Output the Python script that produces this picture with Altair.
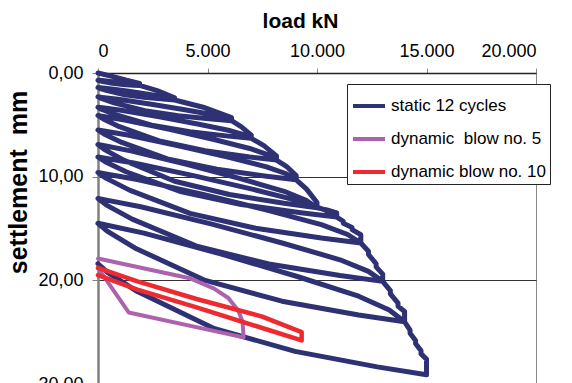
import altair as alt
import pandas as pd

# ---- static load test, 12 load/unload cycles (load kN, settlement mm) ----
static_load = [
    0, 600, 1300, 1900, 1900,
    1615, 1140, 665, 228, 57, 0,
    57, 285, 760, 1235, 1615, 1805, 1900,
    2700, 3500, 3500,
    2975, 2100, 1225, 420, 105, 0,
    105, 525, 1400, 2275, 2975, 3325, 3500,
    4800, 6100, 6100,
    5185, 3660, 2135, 732, 183, 0,
    183, 915, 2440, 3965, 5185, 5795, 6100,
    6550, 7000, 7000,
    5950, 4200, 2450, 840, 210, 0,
    210, 1050, 2800, 4550, 5950, 6650, 7000,
    7575, 8150, 8150,
    6928, 4890, 2853, 978, 245, 0,
    245, 1223, 3260, 5298, 6928, 7743, 8150,
    8600, 9050, 9050,
    7693, 5430, 3168, 1086, 272, 0,
    272, 1358, 3620, 5883, 7693, 8598, 9050,
    9525, 10000, 10000,
    8500, 6000, 3500, 1200, 300, 0,
    300, 1500, 4000, 6500, 8500, 9500, 10000,
    10450, 10900, 10900,
    9265, 6540, 3815, 1308, 327, 0,
    327, 1635, 4360, 7085, 9265, 10355, 10900,
    11200, 11200, 11600, 11600, 12000, 12000,
    10200, 7200, 4200, 1440, 360, 0,
    360, 1800, 4800, 7800, 10200, 11400, 12000,
    12350, 12350, 12700, 12700, 13000, 13000,
    11050, 7800, 4550, 1560, 390, 0,
    390, 1950, 5200, 8450, 11050, 12350, 13000,
    13350, 13350, 13700, 13700, 14000, 14000,
    11900, 8400, 4900, 1680, 420, 0,
    420, 2100, 5600, 9100, 11900, 13300, 14000,
    14250, 14250, 14500, 14500, 14750, 14750, 15000, 15000,
    12750, 9000, 5250, 1800, 450, 0,
]
static_settle = [
    0.0, 0.3, 0.7, 1.0, 1.2,
    1.17, 1.10, 0.99, 0.83, 0.74, 0.70,
    0.71, 0.75, 0.86, 0.97, 1.07, 1.14, 1.20,
    1.7, 2.4, 2.6,
    2.52, 2.35, 2.10, 1.70, 1.50, 1.40,
    1.42, 1.52, 1.77, 2.05, 2.29, 2.46, 2.60,
    3.3, 4.3, 4.6,
    4.44, 4.12, 3.63, 2.88, 2.48, 2.30,
    2.35, 2.53, 3.01, 3.54, 4.00, 4.32, 4.60,
    5.2, 6.0, 6.3,
    6.09, 5.67, 5.04, 4.05, 3.54, 3.30,
    3.36, 3.60, 4.23, 4.92, 5.52, 5.94, 6.30,
    7.0, 8.0, 8.4,
    8.10, 7.50, 6.59, 5.18, 4.44, 4.10,
    4.19, 4.53, 5.43, 6.42, 7.28, 7.88, 8.40,
    9.0, 9.9, 10.3,
    9.96, 9.29, 8.28, 6.70, 5.88, 5.50,
    5.60, 5.98, 6.99, 8.09, 9.05, 9.72, 10.30,
    11.2, 12.5, 13.0,
    12.57, 11.72, 10.44, 8.43, 7.39, 6.90,
    7.02, 7.51, 8.79, 10.19, 11.41, 12.27, 13.00,
    13.2, 13.5, 13.9,
    13.49, 12.68, 11.46, 9.55, 8.56, 8.10,
    8.22, 8.68, 9.90, 11.23, 12.39, 13.20, 13.90,
    14.3, 14.5, 14.9, 15.1, 15.6, 16.4,
    15.92, 14.97, 13.54, 11.30, 10.14, 9.60,
    9.74, 10.28, 11.71, 13.27, 14.63, 15.58, 16.40,
    17.2, 17.5, 18.4, 18.7, 19.4, 20.1,
    19.54, 18.42, 16.74, 14.10, 12.74, 12.10,
    12.26, 12.90, 14.58, 16.42, 18.02, 19.14, 20.10,
    21.0, 21.3, 22.2, 22.5, 23.0, 24.0,
    23.34, 22.01, 20.01, 16.88, 15.26, 14.50,
    14.69, 15.45, 17.45, 19.63, 21.53, 22.86, 24.00,
    24.8, 25.1, 25.8, 26.1, 26.8, 27.1, 27.6, 29.1,
    28.35, 26.85, 24.61, 21.08, 19.26, 18.40,
]

# ---- dynamic blows ----
dyn5_load = [0, 4190, 5300, 5950, 6400, 6600, 6650, 1400, 0]
dyn5_settle = [17.9, 19.8, 20.8, 21.7, 22.9, 24.0, 25.5, 23.1, 18.8]
dyn10_load = [0, 1800, 4500, 7500, 9300, 9300, 7500, 4500, 1800, 0]
dyn10_settle = [18.8, 20.1, 21.8, 23.5, 25.0, 25.8, 24.6, 22.6, 20.9, 19.5]

series_names = ["static 12 cycles", "dynamic\u00a0 blow no. 5", "dynamic blow no. 10"]
series_colors = ["#2e3173", "#ad62ad", "#ed2a30"]
x_ticks = [0, 5000, 10000, 15000, 20000]
y_ticks = [0, 10, 20, 30]

rows = []
for name, xs, ys in zip(series_names,
                        [static_load, dyn5_load, dyn10_load],
                        [static_settle, dyn5_settle, dyn10_settle]):
    for i, (a, b) in enumerate(zip(xs, ys)):
        rows.append({"load": a, "settle": b, "series": name, "idx": i})
df = pd.DataFrame(rows)

FONT = "Liberation Sans"

x_enc = alt.X(
    "load:Q",
    scale=alt.Scale(domain=[0, 20000], nice=False, zero=False),
    axis=alt.Axis(
        orient="top", values=x_ticks, title="load kN", grid=False,
        labelExpr="replace(format(datum.value, ','), ',', '.')",
        labelFont=FONT, labelFontSize=18, labelColor="black",
        labelBaseline="alphabetic", labelPadding=12,
        tickSize=5, tickColor="#888888", domainColor="#222222", domainWidth=1.5,
        titleFont=FONT, titleFontSize=21, titleFontWeight="bold", titleColor="black",
        titleX=202, titleY=-46, titleBaseline="alphabetic", titleAlign="center",
    ),
)
y_enc = alt.Y(
    "settle:Q",
    scale=alt.Scale(domain=[0, 30], reverse=True, nice=False, zero=False),
    axis=alt.Axis(
        values=y_ticks, title="settlement\u00a0 mm", grid=True,
        gridColor="#333333", gridWidth=1,
        labelExpr="replace(format(datum.value, '.2f'), '.', ',')",
        labelFont=FONT, labelFontSize=18, labelColor="black", labelPadding=9,
        tickSize=6, tickColor="#808080", domainColor="#808080", domainWidth=2.5,
        titleFont=FONT, titleFontSize=25, titleFontWeight="bold", titleColor="black",
        titleAngle=270, titleX=-72, titleY=109, titleBaseline="alphabetic", titleAlign="center",
    ),
)
color_enc = alt.Color(
    "series:N",
    scale=alt.Scale(domain=series_names, range=series_colors),
    legend=alt.Legend(
        title=None, orient="none", legendX=249, legendY=11, direction="vertical",
        fillColor="white", strokeColor="#222222", padding=4,
        symbolType="stroke", symbolSize=1024, symbolStrokeWidth=4,
        labelFont=FONT, labelFontSize=17, labelColor="black", labelLimit=300,
        labelOffset=4, rowPadding=7,
    ),
)

widths = [5, 4, 4.5]
layers = []
for name, w in zip(series_names, widths):
    layers.append(
        alt.Chart(df)
        .transform_filter(alt.datum.series == name)
        .mark_line(strokeWidth=w, strokeJoin="round", strokeCap="round")
        .encode(x=x_enc, y=y_enc, color=color_enc, order="idx:Q")
    )

chart = (
    alt.layer(*layers)
    .properties(
        width=438, height=311,
        autosize=alt.AutoSizeParams(type="none"),
        padding={"left": 98, "top": 73, "right": 36, "bottom": 0},
    )
    .configure_view(stroke="#888888", strokeWidth=1)
)

chart.save("out.html", embed_options={"renderer": "svg", "actions": False})
